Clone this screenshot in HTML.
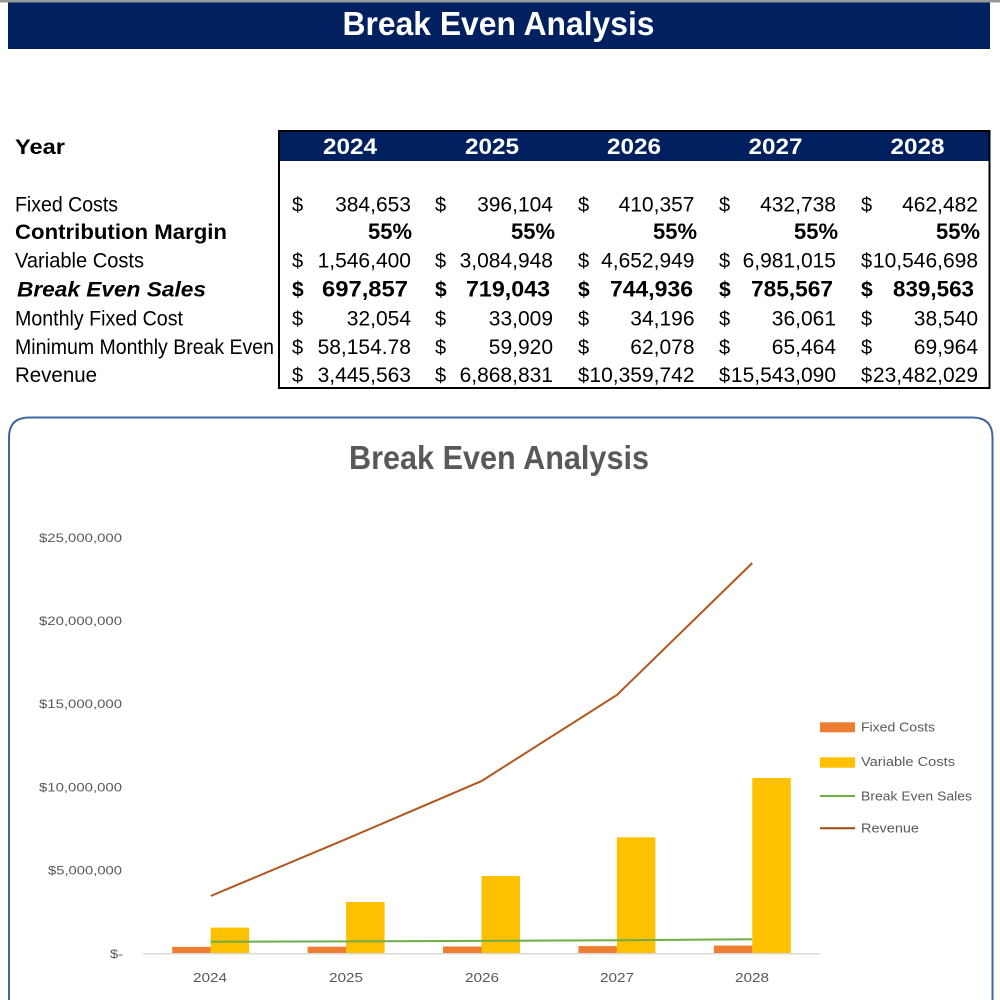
<!DOCTYPE html>
<html>
<head>
<meta charset="utf-8">
<style>
  html,body{margin:0;padding:0;background:#fff;width:1000px;height:1000px;overflow:hidden;}
  svg{display:block;}
  text{font-family:"Liberation Sans",Arial,sans-serif;}
</style>
</head>
<body>
<svg width="1000" height="1000" viewBox="0 0 1000 1000" xmlns="http://www.w3.org/2000/svg">
  <rect x="0" y="0" width="1000" height="1000" fill="#fff"/>
  <!-- top strip -->
  <rect x="0" y="0" width="1000" height="2.5" fill="#9a9a9a"/>
  <!-- header bar -->
  <rect x="8" y="2.5" width="982" height="46.5" fill="#002060"/>
  <text x="342.5" y="35" font-size="33" font-weight="bold" fill="#fff" textLength="312" lengthAdjust="spacingAndGlyphs">Break Even Analysis</text>

  <!-- Table -->
  <text x="15" y="154" font-size="21" font-weight="bold" fill="#000" textLength="50" lengthAdjust="spacingAndGlyphs">Year</text>
  <rect x="279" y="130.5" width="710.5" height="30.5" fill="#002060"/>
  <rect x="279" y="131" width="710.5" height="257" fill="none" stroke="#000" stroke-width="2"/>
  <g font-size="22" font-weight="bold" fill="#fff" text-anchor="middle">
    <text x="350" y="154" textLength="54" lengthAdjust="spacingAndGlyphs">2024</text>
    <text x="492" y="154" textLength="54" lengthAdjust="spacingAndGlyphs">2025</text>
    <text x="634" y="154" textLength="54" lengthAdjust="spacingAndGlyphs">2026</text>
    <text x="775.5" y="154" textLength="54" lengthAdjust="spacingAndGlyphs">2027</text>
    <text x="917.5" y="154" textLength="54" lengthAdjust="spacingAndGlyphs">2028</text>
  </g>

  <!-- row labels -->
  <g font-size="21" fill="#000">
    <text x="15" y="211.5" textLength="103" lengthAdjust="spacingAndGlyphs">Fixed Costs</text>
    <text x="15" y="239" font-weight="bold" textLength="212" lengthAdjust="spacingAndGlyphs">Contribution Margin</text>
    <text x="15" y="267.5" textLength="129" lengthAdjust="spacingAndGlyphs">Variable Costs</text>
    <text x="17" y="296.5" font-weight="bold" font-style="italic" textLength="189" lengthAdjust="spacingAndGlyphs">Break Even Sales</text>
    <text x="15" y="325.5" textLength="168" lengthAdjust="spacingAndGlyphs">Monthly Fixed Cost</text>
    <text x="15" y="354" textLength="259" lengthAdjust="spacingAndGlyphs">Minimum Monthly Break Even</text>
    <text x="15" y="382" textLength="82" lengthAdjust="spacingAndGlyphs">Revenue</text>
  </g>

  <!-- dollar signs -->
  <g font-size="20" fill="#000">
    <text x="292" y="211.5">$</text><text x="435" y="211.5">$</text><text x="578" y="211.5">$</text><text x="719" y="211.5">$</text><text x="861" y="211.5">$</text>
    <text x="292" y="267.5">$</text><text x="435" y="267.5">$</text><text x="578" y="267.5">$</text><text x="719" y="267.5">$</text><text x="861" y="267.5">$</text>
    <text x="292" y="325.5">$</text><text x="435" y="325.5">$</text><text x="578" y="325.5">$</text><text x="719" y="325.5">$</text><text x="861" y="325.5">$</text>
    <text x="292" y="354">$</text><text x="435" y="354">$</text><text x="578" y="354">$</text><text x="719" y="354">$</text><text x="861" y="354">$</text>
    <text x="292" y="382">$</text><text x="435" y="382">$</text><text x="578" y="382">$</text><text x="719" y="382">$</text><text x="861" y="382">$</text>
  </g>
  <g font-size="21" font-weight="bold" fill="#000">
    <text x="292" y="296.5">$</text><text x="435" y="296.5">$</text><text x="578" y="296.5">$</text><text x="719" y="296.5">$</text><text x="861" y="296.5">$</text>
  </g>

  <!-- values -->
  <g font-size="21" fill="#000" text-anchor="end">
    <text x="411" y="211.5">384,653</text>
    <text x="553" y="211.5">396,104</text>
    <text x="694.5" y="211.5">410,357</text>
    <text x="836" y="211.5">432,738</text>
    <text x="978" y="211.5">462,482</text>

    <text x="411" y="267.5">1,546,400</text>
    <text x="553" y="267.5">3,084,948</text>
    <text x="694.5" y="267.5">4,652,949</text>
    <text x="836" y="267.5">6,981,015</text>
    <text x="978" y="267.5">10,546,698</text>

    <text x="411" y="325.5">32,054</text>
    <text x="553" y="325.5">33,009</text>
    <text x="694.5" y="325.5">34,196</text>
    <text x="836" y="325.5">36,061</text>
    <text x="978" y="325.5">38,540</text>

    <text x="411" y="354">58,154.78</text>
    <text x="553" y="354">59,920</text>
    <text x="694.5" y="354">62,078</text>
    <text x="836" y="354">65,464</text>
    <text x="978" y="354">69,964</text>

    <text x="411" y="382">3,445,563</text>
    <text x="553" y="382">6,868,831</text>
    <text x="694.5" y="382">10,359,742</text>
    <text x="836" y="382">15,543,090</text>
    <text x="978" y="382">23,482,029</text>
  </g>
  <g font-size="22" font-weight="bold" fill="#000" text-anchor="end">
    <text x="412" y="239" textLength="44" lengthAdjust="spacingAndGlyphs">55%</text>
    <text x="555" y="239" textLength="44" lengthAdjust="spacingAndGlyphs">55%</text>
    <text x="697" y="239" textLength="44" lengthAdjust="spacingAndGlyphs">55%</text>
    <text x="838" y="239" textLength="44" lengthAdjust="spacingAndGlyphs">55%</text>
    <text x="980" y="239" textLength="44" lengthAdjust="spacingAndGlyphs">55%</text>

    <text x="408" y="296.5" textLength="86" lengthAdjust="spacingAndGlyphs">697,857</text>
    <text x="550" y="296.5" textLength="84" lengthAdjust="spacingAndGlyphs">719,043</text>
    <text x="693" y="296.5" textLength="83" lengthAdjust="spacingAndGlyphs">744,936</text>
    <text x="833" y="296.5" textLength="82" lengthAdjust="spacingAndGlyphs">785,567</text>
    <text x="974" y="296.5" textLength="81" lengthAdjust="spacingAndGlyphs">839,563</text>
  </g>

  <!-- Chart frame (open at bottom, ends at page edge) -->
  <path d="M9,1000 L9,437.5 Q9,417.5 29,417.5 L972.5,417.5 Q992.5,417.5 992.5,437.5 L992.5,1000" fill="none" stroke="#41659f" stroke-width="2"/>
  <text x="349" y="469" font-size="33" font-weight="bold" fill="#595959" textLength="300" lengthAdjust="spacingAndGlyphs">Break Even Analysis</text>

  <!-- Y axis labels -->
  <g font-size="12" fill="#595959" text-anchor="end">
    <text x="122" y="542" textLength="83" lengthAdjust="spacingAndGlyphs">$25,000,000</text>
    <text x="122" y="625" textLength="83" lengthAdjust="spacingAndGlyphs">$20,000,000</text>
    <text x="122" y="708" textLength="83" lengthAdjust="spacingAndGlyphs">$15,000,000</text>
    <text x="122" y="791.5" textLength="83" lengthAdjust="spacingAndGlyphs">$10,000,000</text>
    <text x="122" y="874.5" textLength="74" lengthAdjust="spacingAndGlyphs">$5,000,000</text>
    <text x="123" y="958" textLength="13" lengthAdjust="spacingAndGlyphs">$-</text>
  </g>

  <!-- Bars -->
  <g>
    <rect x="172.2" y="946.9" width="38.5" height="6.4" fill="#ED7D31"/>
    <rect x="307.6" y="946.7" width="38.5" height="6.6" fill="#ED7D31"/>
    <rect x="443" y="946.5" width="38.5" height="6.8" fill="#ED7D31"/>
    <rect x="578.4" y="946.1" width="38.5" height="7.2" fill="#ED7D31"/>
    <rect x="713.8" y="945.6" width="38.5" height="7.7" fill="#ED7D31"/>
    <rect x="210.7" y="927.6" width="38.5" height="25.7" fill="#FFC000"/>
    <rect x="346.1" y="902.0" width="38.5" height="51.3" fill="#FFC000"/>
    <rect x="481.5" y="876.0" width="38.5" height="77.3" fill="#FFC000"/>
    <rect x="616.9" y="837.3" width="38.5" height="116.0" fill="#FFC000"/>
    <rect x="752.3" y="778.0" width="38.5" height="175.3" fill="#FFC000"/>
  </g>

  <!-- X axis line -->
  <line x1="143" y1="953.8" x2="820" y2="953.8" stroke="#d9d9d9" stroke-width="1.5"/>

  <!-- Lines -->
  <polyline points="210.7,941.7 346.1,941.4 481.5,940.9 616.9,940.2 752.3,939.3" fill="none" stroke="#70AD47" stroke-width="2"/>
  <polyline points="210.7,896.0 346.1,839.1 481.5,781.1 616.9,695.0 752.3,563.0" fill="none" stroke="#B0561F" stroke-width="2"/>

  <!-- X labels -->
  <g font-size="12.5" fill="#595959" text-anchor="middle">
    <text x="210" y="982" textLength="34" lengthAdjust="spacingAndGlyphs">2024</text>
    <text x="346" y="982" textLength="34" lengthAdjust="spacingAndGlyphs">2025</text>
    <text x="482" y="982" textLength="34" lengthAdjust="spacingAndGlyphs">2026</text>
    <text x="617" y="982" textLength="34" lengthAdjust="spacingAndGlyphs">2027</text>
    <text x="752" y="982" textLength="34" lengthAdjust="spacingAndGlyphs">2028</text>
  </g>

  <!-- Legend -->
  <rect x="820" y="722.3" width="35" height="10" fill="#ED7D31"/>
  <rect x="820" y="757.3" width="35" height="10.4" fill="#FFC000"/>
  <line x1="820" y1="796" x2="855" y2="796" stroke="#70AD47" stroke-width="2"/>
  <line x1="820" y1="828.3" x2="855" y2="828.3" stroke="#9E480E" stroke-width="2"/>
  <g font-size="12.5" fill="#595959">
    <text x="861" y="731.5" textLength="74" lengthAdjust="spacingAndGlyphs">Fixed Costs</text>
    <text x="861" y="766" textLength="94" lengthAdjust="spacingAndGlyphs">Variable Costs</text>
    <text x="861" y="800.5" textLength="111" lengthAdjust="spacingAndGlyphs">Break Even Sales</text>
    <text x="861" y="832.5" textLength="58" lengthAdjust="spacingAndGlyphs">Revenue</text>
  </g>
</svg>
</body>
</html>
